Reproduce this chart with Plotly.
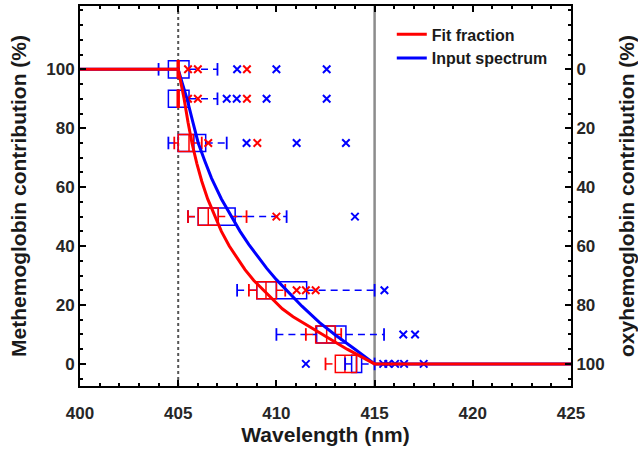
import plotly.graph_objects as go

# ---------------- data ----------------
levels = [100, 90, 75, 50, 25, 10, 0]

# Fit fraction (red) box statistics, wavelength in nm
fit_lo  = [405.0, 405.0, 404.8, 405.5, 408.6, 411.5, 412.5]
fit_q1  = [404.95, 404.95, 405.0, 406.02, 409.0, 412.0, 413.0]
fit_med = [405.0, 405.0, 405.55, 406.53, 409.47, 412.56, 413.49]
fit_q3  = [405.05, 405.05, 405.77, 407.04, 410.0, 413.0, 414.08]
fit_hi  = [405.05, 405.05, 406.2, 408.48, 410.45, 413.3, 414.08]
fit_out = [[405.5, 406.0, 408.5], [405.5, 406.0, 408.5], [406.53, 409.03],
           [410.0], [411.03, 411.5, 412.0], [], []]

# Input spectrum (blue) box statistics
inp_lo  = [404.0, 404.5, 404.5, 405.5, 408.0, 410.0, 413.5]
inp_q1  = [404.5, 404.5, 405.0, 406.02, 409.0, 412.05, 413.83]
inp_med = [405.0, 405.0, 405.8, 407.04, 410.0, 413.0, 414.08]
inp_q3  = [405.55, 405.55, 406.4, 407.9, 411.54, 413.54, 414.34]
inp_hi  = [407.0, 407.0, 407.47, 410.52, 415.0, 415.48, 415.0]
inp_out = [[408.0, 410.0, 412.56], [407.47, 407.98, 409.5, 412.56],
           [408.48, 411.03, 413.54], [414.0], [415.5], [416.46, 417.06],
           [411.5, 415.44, 415.7, 416.04, 416.5, 417.5]]

# Curves (wavelength nm, methemoglobin %)
fit_curve_x = [400.0, 405.0, 405.15, 405.3, 405.5, 405.7, 405.95, 406.2, 406.5, 406.87,
               407.2, 407.6, 408.0, 408.4, 408.85, 409.33, 409.8, 410.3, 410.85, 411.4,
               412.3, 413.6, 415.0, 425.0]
fit_curve_y = [100, 100, 95, 90, 82, 75, 68, 62, 56, 50,
               45, 40, 36, 32, 28.3, 25, 21.8, 18.7, 16, 13.8,
               10, 5, 0, 0]
inp_curve_x = [400.0, 405.0, 405.2, 405.45, 405.75, 406.02, 406.35, 406.7, 407.2, 407.72,
               408.15, 408.6, 409.05, 409.5, 410.0, 410.52, 411.3, 412.2, 413.0, 414.0,
               415.0, 425.0]
inp_curve_y = [100, 100, 95.5, 90, 82, 75, 69, 63, 56, 50,
               45, 40.5, 36.3, 32.5, 28.6, 25, 19.6, 14, 9.8, 5,
               0, 0]

ref_dotted = [405]
ref_solid = [415]

x_ticks = [400, 405, 410, 415, 420, 425]
y_ticks = [0, 20, 40, 60, 80, 100]

RED = "#FF0000"
BLUE = "#0000FF"
FONT = "Liberation Sans, Arial, sans-serif"

fig = go.Figure()


def add_box_series(color, lo, q1, med, q3, hi, outs, name):
    fig.add_trace(go.Box(
        y=levels, q1=q1, median=med, q3=q3,
        lowerfence=q1, upperfence=q3,
        orientation="h", width=5.8,
        line=dict(color=color, width=1.5),
        fillcolor="rgba(0,0,0,0)",
        boxpoints=False, showlegend=False, hoverinfo="skip", name=name,
    ))
    wx, wy, cx, cy = [], [], [], []
    for lv, a, b, c, d in zip(levels, lo, q1, q3, hi):
        if a < b:
            wx += [a, b, None]
            wy += [lv, lv, None]
            cx.append(a)
            cy.append(lv)
        if d > c:
            wx += [c, d, None]
            wy += [lv, lv, None]
            cx.append(d)
            cy.append(lv)
    fig.add_trace(go.Scatter(
        x=wx, y=wy, mode="lines",
        line=dict(color=color, width=1.5, dash="7px,5px"),
        showlegend=False, hoverinfo="skip",
    ))
    fig.add_trace(go.Scatter(
        x=cx, y=cy, mode="markers",
        marker=dict(symbol="line-ns", size=9, line=dict(color=color, width=1.8)),
        showlegend=False, hoverinfo="skip",
    ))
    ox, oy = [], []
    for lv, o in zip(levels, outs):
        for v in o:
            ox.append(v)
            oy.append(lv)
    fig.add_trace(go.Scatter(
        x=ox, y=oy, mode="markers",
        marker=dict(symbol="x-thin", size=7.5, line=dict(color=color, width=2)),
        showlegend=False, hoverinfo="skip",
    ))


add_box_series(BLUE, inp_lo, inp_q1, inp_med, inp_q3, inp_hi, inp_out, "inp")
add_box_series(RED, fit_lo, fit_q1, fit_med, fit_q3, fit_hi, fit_out, "fit")

fig.add_trace(go.Scatter(
    x=inp_curve_x, y=inp_curve_y, mode="lines", name="Input spectrum",
    line=dict(color=BLUE, width=3),
    legendrank=2,
))
fig.add_trace(go.Scatter(
    x=fit_curve_x, y=fit_curve_y, mode="lines", name="Fit fraction",
    line=dict(color=RED, width=3),
    legendrank=1,
))

for v in ref_dotted:
    fig.add_vline(x=v, line=dict(color="#555555", width=2, dash="dot"), layer="below")
for v in ref_solid:
    fig.add_vline(x=v, line=dict(color="#8c8c8c", width=2.5), layer="below")

tickfont = dict(family=FONT, size=17, color="#262626", weight="bold")
titlefont = dict(family=FONT, size=21, color="#1a1a1a", weight="bold")

fig.update_layout(
    width=638, height=456,
    margin=dict(l=80, r=67, t=6, b=70),
    plot_bgcolor="white", paper_bgcolor="white",
    boxmode="overlay",
    showlegend=True,
    legend=dict(
        x=0.635, y=0.97, xanchor="left", yanchor="top",
        bgcolor="white", borderwidth=0,
        font=dict(family=FONT, size=16, color="#1a1a1a", weight="bold"),
        itemwidth=30, tracegroupgap=0,
    ),
    xaxis=dict(
        range=[400, 425], tickmode="array", tickvals=x_ticks,
        ticks="inside", ticklen=6, tickwidth=1.5, tickcolor="black",
        minor=dict(dtick=1, tick0=400, ticks="inside", ticklen=3, tickwidth=1.5, tickcolor="black"),
        showline=True, linecolor="black", linewidth=2, mirror="ticks",
        showgrid=False, zeroline=False, automargin=False,
        tickfont=tickfont, ticklabelstandoff=11,
        title=dict(text="Wavelength (nm)", font=titlefont, standoff=4),
    ),
    yaxis=dict(
        range=[-7.5, 121.5], tickmode="array", tickvals=y_ticks,
        ticks="inside", ticklen=6, tickwidth=1.5, tickcolor="black",
        minor=dict(dtick=5, tick0=0, ticks="inside", ticklen=3, tickwidth=1.5, tickcolor="black"),
        showline=True, linecolor="black", linewidth=2, mirror=True,
        showgrid=False, zeroline=False, automargin=False,
        tickfont=tickfont,
        title=dict(text="Methemoglobin contribution (%)", font=titlefont, standoff=14),
    ),
    yaxis2=dict(
        overlaying="y", side="right",
        range=[107.5, -21.5], tickmode="array", tickvals=y_ticks,
        ticks="inside", ticklen=6, tickwidth=1.5, tickcolor="black",
        minor=dict(dtick=5, tick0=0, ticks="inside", ticklen=3, tickwidth=1.5, tickcolor="black"),
        showline=True, linecolor="black", linewidth=2,
        showgrid=False, zeroline=False, automargin=False,
        tickfont=tickfont,
        title=dict(text="oxyhemoglobin contribution (%)", font=titlefont, standoff=16),
    ),
)

fig.add_trace(go.Scatter(x=[None], y=[None], yaxis="y2", showlegend=False, hoverinfo="skip"))

fig.write_html("out.html")
